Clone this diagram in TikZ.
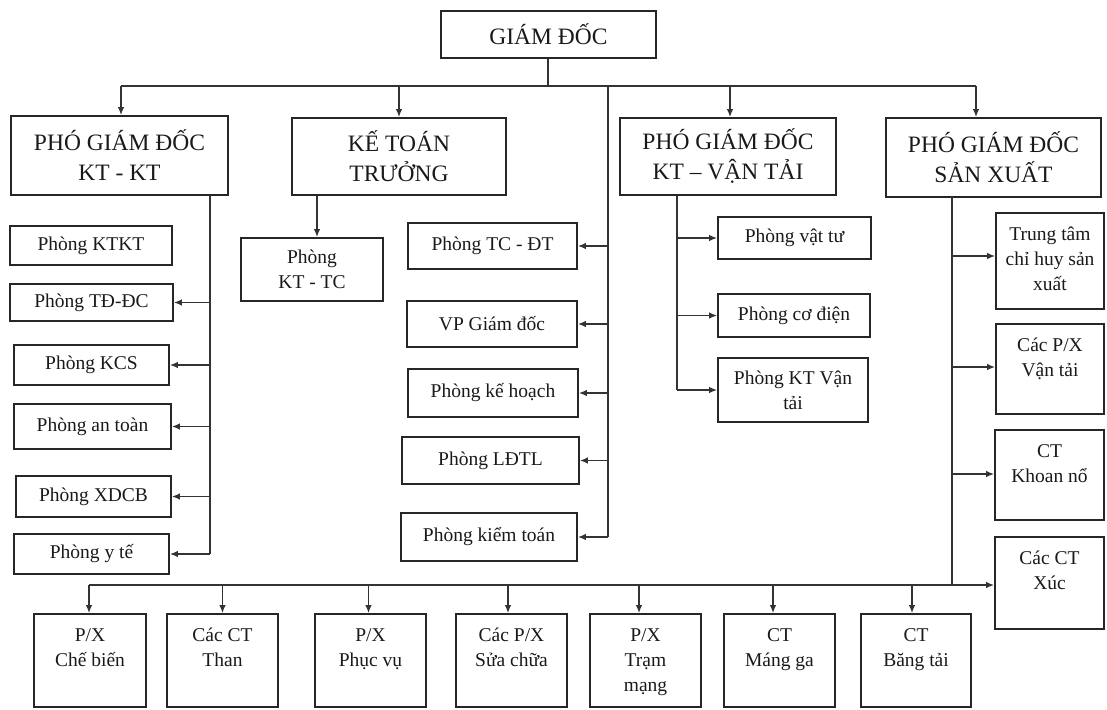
\documentclass[tikz,border=0pt]{standalone}
\usepackage{fontspec}
\setmainfont{Liberation Serif}
\usetikzlibrary{arrows.meta}
\tikzset{
  bx/.style={draw=black!85, line width=1.6pt, inner sep=0pt, align=center,
    font=\fontsize{19.5}{25}\selectfont, text=black!90},
  title/.style={bx, font=\fontsize{23.5}{30}\selectfont},
  ln/.style={draw=black!80, line width=1.6pt},
  arr/.style={ln, -{Latex[length=8pt,width=6.5pt]}},
}
\newcommand\boxnode[7]{\node[#1, minimum width={((#5)-(#3))*1pt}, minimum height={((#6)-(#4))*1pt}] (#2) at ({((#3)+(#5))/2},{((#4)+(#6))/2}) {#7};}
\newcommand\topt[3]{\parbox[c][#1pt][t]{#2pt}{\centering\strut #3}}
\begin{document}
\begin{tikzpicture}[x=1pt,y=-1pt]
\useasboundingbox (0,0) rectangle (1107,709);
% top level
\boxnode{title}{gd}{441}{11}{656}{58}{GIÁM ĐỐC}
\boxnode{title}{pg1}{11}{116}{228}{195}{PHÓ GIÁM ĐỐC\\KT - KT}
\boxnode{title}{ktt}{292}{118}{506}{195}{KẾ TOÁN\\TRƯỞNG}
\boxnode{title}{pg2}{620}{118}{836}{195}{PHÓ GIÁM ĐỐC\\KT – VẬN TẢI}
\boxnode{title}{pg3}{886}{118}{1101}{197}{PHÓ GIÁM ĐỐC\\SẢN XUẤT}
% left column
\boxnode{bx}{ktkt}{10}{226}{172}{265}{Phòng KTKT}
\boxnode{bx}{tddc}{10}{284}{173}{321}{Phòng TĐ-ĐC}
\boxnode{bx}{kcs}{14}{345}{169}{385}{Phòng KCS}
\boxnode{bx}{antoan}{14}{404}{171}{449}{Phòng an toàn}
\boxnode{bx}{xdcb}{16}{476}{171}{517}{Phòng XDCB}
\boxnode{bx}{yte}{14}{534}{169}{574}{Phòng y tế}
% ke toan truong
\boxnode{bx}{kttc}{241}{238}{383}{301}{Phòng\\KT - TC}
% centre column
\boxnode{bx}{tcdt}{408}{223}{577}{269}{Phòng TC - ĐT}
\boxnode{bx}{vpgd}{407}{301}{577}{347}{VP Giám đốc}
\boxnode{bx}{khoach}{408}{369}{578}{417}{Phòng kế hoạch}
\boxnode{bx}{ldtl}{402}{437}{579}{484}{Phòng LĐTL}
\boxnode{bx}{kiemtoan}{401}{513}{577}{561}{Phòng kiểm toán}
% KT - van tai column
\boxnode{bx}{vattu}{718}{217}{871}{259}{Phòng vật tư}
\boxnode{bx}{codien}{718}{294}{870}{337}{Phòng cơ điện}
\boxnode{bx}{ktvt}{718}{358}{868}{422}{Phòng KT Vận\\tải}
% san xuat column
\boxnode{bx}{ttchsx}{996}{213}{1104}{309}{\topt{76}{106}{Trung tâm\\chỉ huy sản\\xuất}}
\boxnode{bx}{pxvt}{996}{324}{1104}{414}{\topt{70}{106}{Các P/X\\Vận tải}}
\boxnode{bx}{khoan}{995}{430}{1104}{520}{\topt{70}{107}{CT\\Khoan nổ}}
\boxnode{bx}{xuc}{995}{537}{1104}{629}{\topt{72}{107}{Các CT\\Xúc}}
% bottom row
\boxnode{bx}{chebien}{34}{614}{146}{707}{\topt{73}{110}{P/X\\Chế biến}}
\boxnode{bx}{than}{167}{614}{278}{707}{\topt{73}{109}{Các CT\\Than}}
\boxnode{bx}{phucvu}{315}{614}{426}{707}{\topt{73}{109}{P/X\\Phục vụ}}
\boxnode{bx}{suachua}{456}{614}{567}{707}{\topt{73}{109}{Các P/X\\Sửa chữa}}
\boxnode{bx}{tram}{590}{614}{701}{707}{\topt{73}{109}{P/X\\Trạm\\mạng}}
\boxnode{bx}{mangga}{724}{614}{835}{707}{\topt{73}{109}{CT\\Máng ga}}
\boxnode{bx}{bangtai}{861}{614}{971}{707}{\topt{73}{108}{CT\\Băng tải}}
% coordinates of buses
\coordinate (b0) at (548,86);
\coordinate (bL) at (121,86);
\coordinate (bR) at (976,86);
\coordinate (c0) at (608,86);
\coordinate (l0) at (210,195);
\coordinate (k0) at (317,195);
\coordinate (v0) at (677,195);
\coordinate (s0) at (952,197);
\coordinate (s1) at (952,585);
\coordinate (bb) at (89,585);
% top bus
\draw[ln] (gd.south -| b0) -- (b0);
\draw[ln] (bL) -- (bR);
\draw[arr] (bL) -- (bL |- pg1.north);
\draw[arr] (ktt.north |- bL) -- (ktt.north);
\draw[arr] ([xshift=2pt]pg2.north |- bL) -- ([xshift=2pt]pg2.north);
\draw[arr] (bR) -- (bR |- pg3.north);
% left column
\draw[ln] (l0) -- (l0 |- yte.east);
\foreach \n in {tddc,kcs,antoan,xdcb,yte} \draw[arr] (l0 |- \n.east) -- (\n.east);
% ke toan
\draw[arr] (k0) -- (k0 |- kttc.north);
% centre column
\draw[ln] (c0) -- (c0 |- kiemtoan.east);
\foreach \n in {tcdt,vpgd,khoach,ldtl,kiemtoan} \draw[arr] (c0 |- \n.east) -- (\n.east);
% van tai column
\draw[ln] (v0) -- (v0 |- ktvt.west);
\foreach \n in {vattu,codien,ktvt} \draw[arr] (v0 |- \n.west) -- (\n.west);
% san xuat column
\draw[ln] (s0) -- (s1);
\draw[arr] (s0 |- 0,256) -- (ttchsx.west |- 0,256);
\draw[arr] (s0 |- 0,367) -- (pxvt.west |- 0,367);
\draw[arr] (s0 |- 0,474) -- (khoan.west |- 0,474);
\draw[arr] (s1) -- (xuc.west |- s1);
% bottom bus
\draw[ln] (bb) -- (s1);
\draw[arr] (bb) -- (bb |- chebien.north);
\draw[arr] (than.north |- bb) -- (than.north);
\draw[arr] ([xshift=-2pt]phucvu.north |- bb) -- ([xshift=-2pt]phucvu.north);
\draw[arr] ([xshift=-3.5pt]suachua.north |- bb) -- ([xshift=-3.5pt]suachua.north);
\draw[arr] ([xshift=-6.5pt]tram.north |- bb) -- ([xshift=-6.5pt]tram.north);
\draw[arr] ([xshift=-6.5pt]mangga.north |- bb) -- ([xshift=-6.5pt]mangga.north);
\draw[arr] ([xshift=-4pt]bangtai.north |- bb) -- ([xshift=-4pt]bangtai.north);
\end{tikzpicture}
\end{document}
